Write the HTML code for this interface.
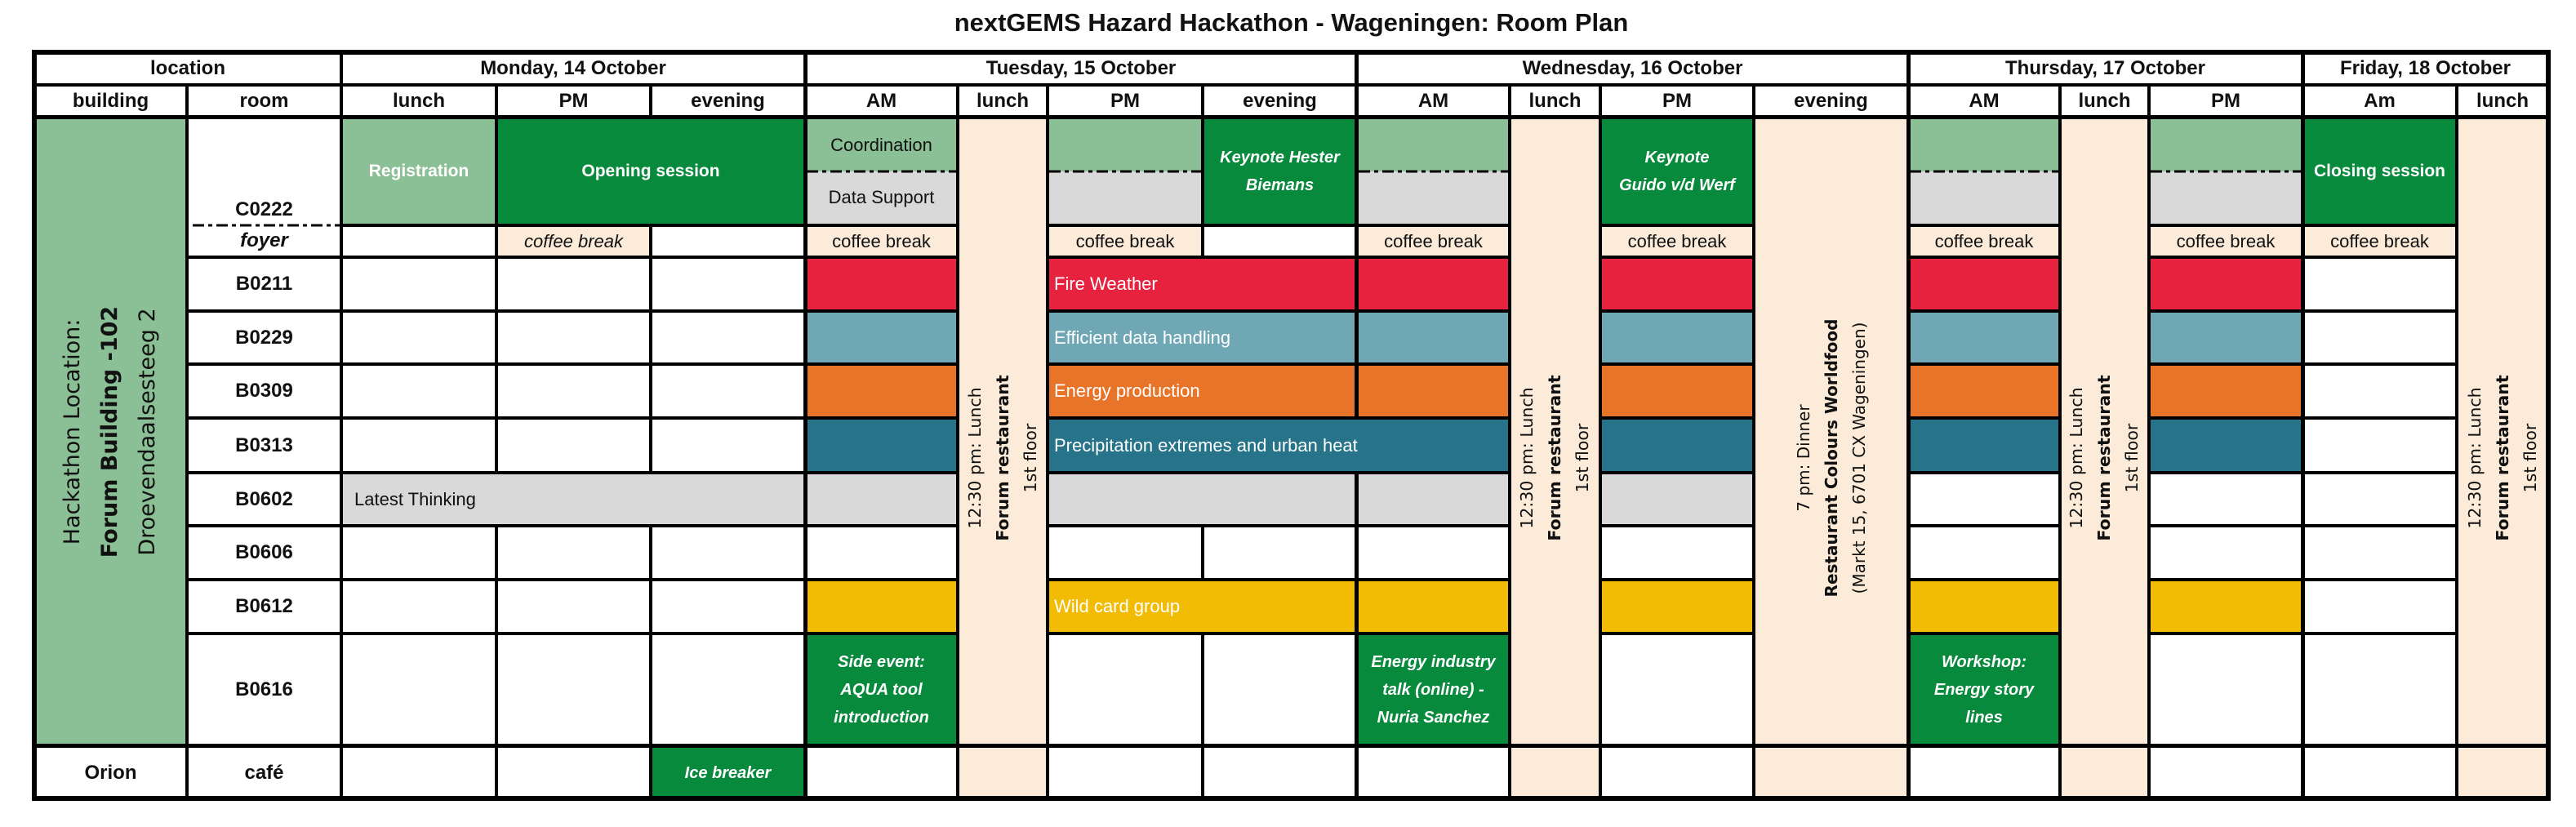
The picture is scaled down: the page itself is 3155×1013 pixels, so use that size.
<!DOCTYPE html>
<html><head><meta charset="utf-8">
<style>
html,body{margin:0;padding:0;background:#fff;}
body{width:3155px;height:1013px;position:relative;overflow:hidden;font-family:"Liberation Sans",sans-serif;}
.c{position:absolute;box-sizing:border-box;border:2px solid #000;display:flex;align-items:center;justify-content:center;text-align:center;font-size:22px;color:#111;line-height:34px;}
.h{font-weight:bold;font-size:24px;}
.w{color:#fff;}
.b{font-weight:bold;}
.bi{font-weight:bold;font-style:italic;font-size:20px;color:#fff;}
.l{justify-content:flex-start;padding-left:6px;color:#fff;white-space:nowrap;}
.lg{background:#8bbf95;}.dg{background:#078a3c;}.gr{background:#d9d9d9;}.cr{background:#fbebd8;}
.rd{background:#e6223f;}.tl{background:#6fa7b5;}.or{background:#e8742a;}.dt{background:#277389;}.ye{background:#f2bb04;}
.rot{position:absolute;transform:translate(-50%,-50%) rotate(-90deg);white-space:nowrap;text-align:center;font-family:"DejaVu Sans",sans-serif;color:#111;}
.ln{position:absolute;background:#000;}
</style></head><body>
<div style="position:absolute;left:0;top:10px;width:3155px;text-align:center;"><span style="position:relative;left:4px;font-weight:bold;font-size:31px;color:#111;">nextGEMS Hazard Hackathon - Wageningen: Room Plan</span></div>

<!-- header row 1 -->
<div class="c h" style="left:42px;top:64px;width:376px;height:40px">location</div>
<div class="c h" style="left:418px;top:64px;width:568px;height:40px">Monday, 14 October</div>
<div class="c h" style="left:986px;top:64px;width:676px;height:40px">Tuesday, 15 October</div>
<div class="c h" style="left:1662px;top:64px;width:675px;height:40px">Wednesday, 16 October</div>
<div class="c h" style="left:2337px;top:64px;width:483px;height:40px">Thursday, 17 October</div>
<div class="c h" style="left:2820px;top:64px;width:301px;height:40px">Friday, 18 October</div>
<!-- header row 2 -->
<div class="c h" style="left:42px;top:104px;width:187px;height:40px">building</div>
<div class="c h" style="left:229px;top:104px;width:189px;height:40px">room</div>
<div class="c h" style="left:418px;top:104px;width:190px;height:40px">lunch</div>
<div class="c h" style="left:608px;top:104px;width:189px;height:40px">PM</div>
<div class="c h" style="left:797px;top:104px;width:189px;height:40px">evening</div>
<div class="c h" style="left:986px;top:104px;width:187px;height:40px">AM</div>
<div class="c h" style="left:1173px;top:104px;width:110px;height:40px">lunch</div>
<div class="c h" style="left:1283px;top:104px;width:190px;height:40px">PM</div>
<div class="c h" style="left:1473px;top:104px;width:189px;height:40px">evening</div>
<div class="c h" style="left:1662px;top:104px;width:187px;height:40px">AM</div>
<div class="c h" style="left:1849px;top:104px;width:111px;height:40px">lunch</div>
<div class="c h" style="left:1960px;top:104px;width:188px;height:40px">PM</div>
<div class="c h" style="left:2148px;top:104px;width:189px;height:40px">evening</div>
<div class="c h" style="left:2337px;top:104px;width:186px;height:40px">AM</div>
<div class="c h" style="left:2523px;top:104px;width:109px;height:40px">lunch</div>
<div class="c h" style="left:2632px;top:104px;width:188px;height:40px">PM</div>
<div class="c h" style="left:2820px;top:104px;width:189px;height:40px">Am</div>
<div class="c h" style="left:3009px;top:104px;width:112px;height:40px">lunch</div>

<!-- building -->
<div class="c lg" style="left:42px;top:144px;width:187px;height:770px"></div>
<div class="rot" style="left:135px;top:529px;font-size:27px;line-height:46px;">Hackathon Location:<br><b>Forum Building -102</b><br>Droevendaalsesteeg 2</div>
<div class="c h" style="left:42px;top:914px;width:187px;height:65px">Orion</div>

<!-- rooms -->
<div class="c h" style="left:229px;top:144px;width:189px;height:132px;align-items:flex-end;border-bottom:none;line-height:30px;padding-bottom:4px">C0222</div>
<div class="c h" style="left:229px;top:276px;width:189px;height:39px;border-top:none;font-style:italic">foyer</div>
<div class="c h" style="left:229px;top:315px;width:189px;height:66px">B0211</div>
<div class="c h" style="left:229px;top:381px;width:189px;height:65px">B0229</div>
<div class="c h" style="left:229px;top:446px;width:189px;height:66px">B0309</div>
<div class="c h" style="left:229px;top:512px;width:189px;height:67px">B0313</div>
<div class="c h" style="left:229px;top:579px;width:189px;height:65px">B0602</div>
<div class="c h" style="left:229px;top:644px;width:189px;height:66px">B0606</div>
<div class="c h" style="left:229px;top:710px;width:189px;height:66px">B0612</div>
<div class="c h" style="left:229px;top:776px;width:189px;height:138px">B0616</div>
<div class="c h" style="left:229px;top:914px;width:189px;height:65px">café</div>

<!-- Monday -->
<div class="c lg w b" style="left:418px;top:144px;width:190px;height:132px;font-size:21px">Registration</div>
<div class="c dg w b" style="left:608px;top:144px;width:378px;height:132px;font-size:21px">Opening session</div>
<div class="c" style="left:418px;top:276px;width:190px;height:39px"></div>
<div class="c cr" style="left:608px;top:276px;width:189px;height:39px;font-style:italic">coffee break</div>
<div class="c" style="left:797px;top:276px;width:189px;height:39px"></div>
<div class="c" style="left:418px;top:315px;width:190px;height:66px"></div><div class="c" style="left:608px;top:315px;width:189px;height:66px"></div><div class="c" style="left:797px;top:315px;width:189px;height:66px"></div>
<div class="c" style="left:418px;top:381px;width:190px;height:65px"></div><div class="c" style="left:608px;top:381px;width:189px;height:65px"></div><div class="c" style="left:797px;top:381px;width:189px;height:65px"></div>
<div class="c" style="left:418px;top:446px;width:190px;height:66px"></div><div class="c" style="left:608px;top:446px;width:189px;height:66px"></div><div class="c" style="left:797px;top:446px;width:189px;height:66px"></div>
<div class="c" style="left:418px;top:512px;width:190px;height:67px"></div><div class="c" style="left:608px;top:512px;width:189px;height:67px"></div><div class="c" style="left:797px;top:512px;width:189px;height:67px"></div>
<div class="c gr" style="left:418px;top:579px;width:568px;height:65px;justify-content:flex-start;padding-left:14px">Latest Thinking</div>
<div class="c" style="left:418px;top:644px;width:190px;height:66px"></div><div class="c" style="left:608px;top:644px;width:189px;height:66px"></div><div class="c" style="left:797px;top:644px;width:189px;height:66px"></div>
<div class="c" style="left:418px;top:710px;width:190px;height:66px"></div><div class="c" style="left:608px;top:710px;width:189px;height:66px"></div><div class="c" style="left:797px;top:710px;width:189px;height:66px"></div>
<div class="c" style="left:418px;top:776px;width:190px;height:138px"></div><div class="c" style="left:608px;top:776px;width:189px;height:138px"></div><div class="c" style="left:797px;top:776px;width:189px;height:138px"></div>
<div class="c" style="left:418px;top:914px;width:190px;height:65px"></div><div class="c" style="left:608px;top:914px;width:189px;height:65px"></div>
<div class="c dg bi" style="left:797px;top:914px;width:189px;height:65px">Ice breaker</div>

<!-- Tuesday AM -->
<div class="c lg" style="left:986px;top:144px;width:187px;height:66px;border-bottom:none">Coordination</div>
<div class="c gr" style="left:986px;top:210px;width:187px;height:66px;border-top:none">Data Support</div>
<div class="c cr" style="left:986px;top:276px;width:187px;height:39px">coffee break</div>
<div class="c rd" style="left:986px;top:315px;width:187px;height:66px"></div>
<div class="c tl" style="left:986px;top:381px;width:187px;height:65px"></div>
<div class="c or" style="left:986px;top:446px;width:187px;height:66px"></div>
<div class="c dt" style="left:986px;top:512px;width:187px;height:67px"></div>
<div class="c gr" style="left:986px;top:579px;width:187px;height:65px"></div>
<div class="c" style="left:986px;top:644px;width:187px;height:66px"></div>
<div class="c ye" style="left:986px;top:710px;width:187px;height:66px"></div>
<div class="c dg bi" style="left:986px;top:776px;width:187px;height:138px">Side event:<br>AQUA tool<br>introduction</div>
<div class="c" style="left:986px;top:914px;width:187px;height:65px"></div>
<!-- Tue lunch -->
<div class="c cr" style="left:1173px;top:144px;width:110px;height:835px"></div>
<div class="rot" style="left:1228px;top:561px;font-size:20.5px;line-height:34px;">12:30 pm: Lunch<br><b>Forum restaurant</b><br>1st floor</div>
<!-- Tue PM / evening -->
<div class="c lg" style="left:1283px;top:144px;width:190px;height:66px;border-bottom:none"></div>
<div class="c gr" style="left:1283px;top:210px;width:190px;height:66px;border-top:none"></div>
<div class="c dg bi" style="left:1473px;top:144px;width:189px;height:132px">Keynote Hester<br>Biemans</div>
<div class="c cr" style="left:1283px;top:276px;width:190px;height:39px">coffee break</div>
<div class="c" style="left:1473px;top:276px;width:189px;height:39px"></div>
<div class="c rd l" style="left:1283px;top:315px;width:379px;height:66px">Fire Weather</div>
<div class="c tl l" style="left:1283px;top:381px;width:379px;height:65px">Efficient data handling</div>
<div class="c or l" style="left:1283px;top:446px;width:379px;height:66px">Energy production</div>
<div class="c dt l" style="left:1283px;top:512px;width:566px;height:67px">Precipitation extremes and urban heat</div>
<div class="c gr" style="left:1283px;top:579px;width:379px;height:65px"></div>
<div class="c" style="left:1283px;top:644px;width:190px;height:66px"></div><div class="c" style="left:1473px;top:644px;width:189px;height:66px"></div>
<div class="c ye l" style="left:1283px;top:710px;width:379px;height:66px">Wild card group</div>
<div class="c" style="left:1283px;top:776px;width:190px;height:138px"></div><div class="c" style="left:1473px;top:776px;width:189px;height:138px"></div>
<div class="c" style="left:1283px;top:914px;width:190px;height:65px"></div><div class="c" style="left:1473px;top:914px;width:189px;height:65px"></div>

<!-- Wednesday AM -->
<div class="c lg" style="left:1662px;top:144px;width:187px;height:66px;border-bottom:none"></div>
<div class="c gr" style="left:1662px;top:210px;width:187px;height:66px;border-top:none"></div>
<div class="c cr" style="left:1662px;top:276px;width:187px;height:39px">coffee break</div>
<div class="c rd" style="left:1662px;top:315px;width:187px;height:66px"></div>
<div class="c tl" style="left:1662px;top:381px;width:187px;height:65px"></div>
<div class="c or" style="left:1662px;top:446px;width:187px;height:66px"></div>
<div class="c gr" style="left:1662px;top:579px;width:187px;height:65px"></div>
<div class="c" style="left:1662px;top:644px;width:187px;height:66px"></div>
<div class="c ye" style="left:1662px;top:710px;width:187px;height:66px"></div>
<div class="c dg bi" style="left:1662px;top:776px;width:187px;height:138px">Energy industry<br>talk (online) -<br>Nuria Sanchez</div>
<div class="c" style="left:1662px;top:914px;width:187px;height:65px"></div>
<div class="c cr" style="left:1849px;top:144px;width:111px;height:835px"></div>
<div class="rot" style="left:1904px;top:561px;font-size:20.5px;line-height:34px;">12:30 pm: Lunch<br><b>Forum restaurant</b><br>1st floor</div>
<!-- Wed PM -->
<div class="c dg bi" style="left:1960px;top:144px;width:188px;height:132px">Keynote<br>Guido v/d Werf</div>
<div class="c cr" style="left:1960px;top:276px;width:188px;height:39px">coffee break</div>
<div class="c rd" style="left:1960px;top:315px;width:188px;height:66px"></div>
<div class="c tl" style="left:1960px;top:381px;width:188px;height:65px"></div>
<div class="c or" style="left:1960px;top:446px;width:188px;height:66px"></div>
<div class="c dt" style="left:1960px;top:512px;width:188px;height:67px"></div>
<div class="c gr" style="left:1960px;top:579px;width:188px;height:65px"></div>
<div class="c" style="left:1960px;top:644px;width:188px;height:66px"></div>
<div class="c ye" style="left:1960px;top:710px;width:188px;height:66px"></div>
<div class="c" style="left:1960px;top:776px;width:188px;height:138px"></div>
<div class="c" style="left:1960px;top:914px;width:188px;height:65px"></div>
<!-- Wed evening -->
<div class="c cr" style="left:2148px;top:144px;width:189px;height:835px"></div>
<div class="rot" style="left:2243px;top:561px;font-size:20px;line-height:34px;">7 pm: Dinner<br><b>Restaurant Colours Worldfood</b><br>(Markt 15, 6701 CX Wageningen)</div>

<!-- Thursday AM -->
<div class="c lg" style="left:2337px;top:144px;width:186px;height:66px;border-bottom:none"></div>
<div class="c gr" style="left:2337px;top:210px;width:186px;height:66px;border-top:none"></div>
<div class="c cr" style="left:2337px;top:276px;width:186px;height:39px">coffee break</div>
<div class="c rd" style="left:2337px;top:315px;width:186px;height:66px"></div>
<div class="c tl" style="left:2337px;top:381px;width:186px;height:65px"></div>
<div class="c or" style="left:2337px;top:446px;width:186px;height:66px"></div>
<div class="c dt" style="left:2337px;top:512px;width:186px;height:67px"></div>
<div class="c" style="left:2337px;top:579px;width:186px;height:65px"></div>
<div class="c" style="left:2337px;top:644px;width:186px;height:66px"></div>
<div class="c ye" style="left:2337px;top:710px;width:186px;height:66px"></div>
<div class="c dg bi" style="left:2337px;top:776px;width:186px;height:138px">Workshop:<br>Energy story<br>lines</div>
<div class="c" style="left:2337px;top:914px;width:186px;height:65px"></div>
<div class="c cr" style="left:2523px;top:144px;width:109px;height:835px"></div>
<div class="rot" style="left:2577px;top:561px;font-size:20.5px;line-height:34px;">12:30 pm: Lunch<br><b>Forum restaurant</b><br>1st floor</div>
<!-- Thu PM -->
<div class="c lg" style="left:2632px;top:144px;width:188px;height:66px;border-bottom:none"></div>
<div class="c gr" style="left:2632px;top:210px;width:188px;height:66px;border-top:none"></div>
<div class="c cr" style="left:2632px;top:276px;width:188px;height:39px">coffee break</div>
<div class="c rd" style="left:2632px;top:315px;width:188px;height:66px"></div>
<div class="c tl" style="left:2632px;top:381px;width:188px;height:65px"></div>
<div class="c or" style="left:2632px;top:446px;width:188px;height:66px"></div>
<div class="c dt" style="left:2632px;top:512px;width:188px;height:67px"></div>
<div class="c" style="left:2632px;top:579px;width:188px;height:65px"></div>
<div class="c" style="left:2632px;top:644px;width:188px;height:66px"></div>
<div class="c ye" style="left:2632px;top:710px;width:188px;height:66px"></div>
<div class="c" style="left:2632px;top:776px;width:188px;height:138px"></div>
<div class="c" style="left:2632px;top:914px;width:188px;height:65px"></div>

<!-- Friday -->
<div class="c dg w b" style="left:2820px;top:144px;width:189px;height:132px;font-size:21px">Closing session</div>
<div class="c cr" style="left:2820px;top:276px;width:189px;height:39px">coffee break</div>
<div class="c" style="left:2820px;top:315px;width:189px;height:66px"></div>
<div class="c" style="left:2820px;top:381px;width:189px;height:65px"></div>
<div class="c" style="left:2820px;top:446px;width:189px;height:66px"></div>
<div class="c" style="left:2820px;top:512px;width:189px;height:67px"></div>
<div class="c" style="left:2820px;top:579px;width:189px;height:65px"></div>
<div class="c" style="left:2820px;top:644px;width:189px;height:66px"></div>
<div class="c" style="left:2820px;top:710px;width:189px;height:66px"></div>
<div class="c" style="left:2820px;top:776px;width:189px;height:138px"></div>
<div class="c" style="left:2820px;top:914px;width:189px;height:65px"></div>
<div class="c cr" style="left:3009px;top:144px;width:112px;height:835px"></div>
<div class="rot" style="left:3065px;top:561px;font-size:20.5px;line-height:34px;">12:30 pm: Lunch<br><b>Forum restaurant</b><br>1st floor</div>

<!-- thick lines -->
<div class="ln" style="left:39px;top:61px;width:3085px;height:6px"></div>
<div class="ln" style="left:39px;top:975px;width:3085px;height:6px"></div>
<div class="ln" style="left:39px;top:61px;width:6px;height:920px"></div>
<div class="ln" style="left:3118px;top:61px;width:6px;height:920px"></div>
<div class="ln" style="left:42px;top:141px;width:3079px;height:5px"></div>
<div class="ln" style="left:42px;top:911px;width:3079px;height:5px"></div>
<div class="ln" style="left:416px;top:64px;width:4px;height:913px"></div>
<div class="ln" style="left:984px;top:64px;width:5px;height:913px"></div>
<div class="ln" style="left:1659px;top:64px;width:5px;height:450px"></div>
<div class="ln" style="left:1659px;top:577px;width:5px;height:400px"></div>
<div class="ln" style="left:2335px;top:64px;width:5px;height:913px"></div>
<div class="ln" style="left:2818px;top:64px;width:5px;height:913px"></div>

<!-- dash-dot lines -->
<svg style="position:absolute;left:0;top:0" width="3155" height="1013">
<g stroke="#000" stroke-width="3" stroke-dasharray="14,5,5,5">
<line x1="236" y1="276" x2="418" y2="276"/>
<line x1="988" y1="210" x2="1172" y2="210"/>
<line x1="1285" y1="210" x2="1472" y2="210"/>
<line x1="1664" y1="210" x2="1848" y2="210"/>
<line x1="2339" y1="210" x2="2522" y2="210"/>
<line x1="2634" y1="210" x2="2819" y2="210"/>
</g>
</svg>
</body></html>
